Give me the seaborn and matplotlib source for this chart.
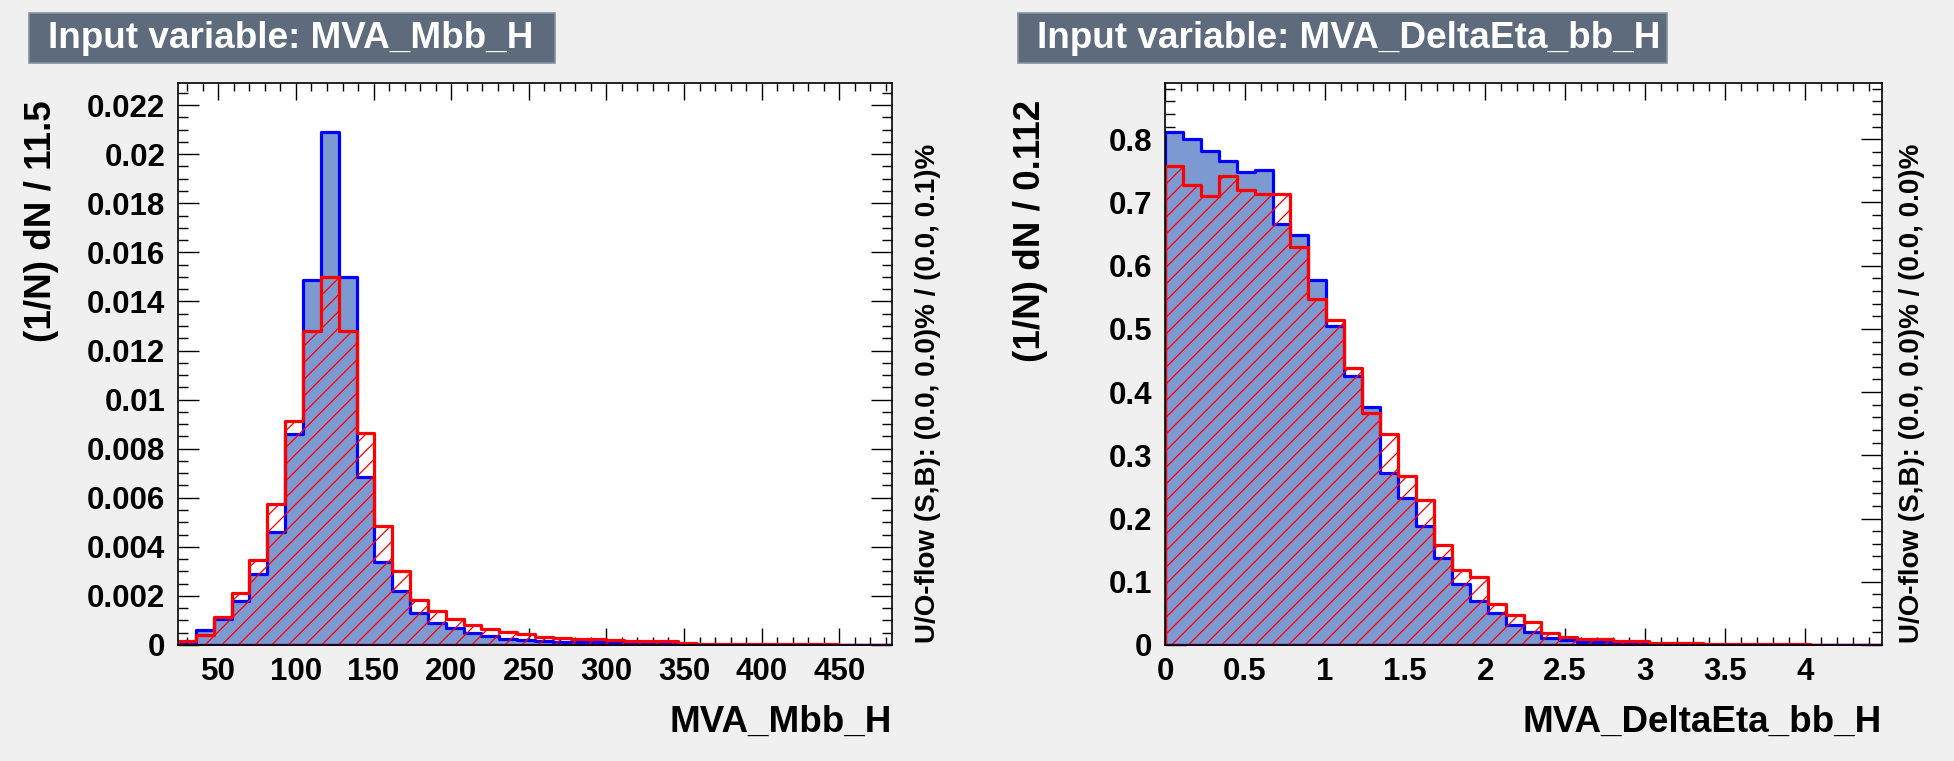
import numpy as np
import pandas as pd
import matplotlib
matplotlib.use("Agg")
import matplotlib.pyplot as plt
import seaborn as sns
from matplotlib.ticker import MultipleLocator, FuncFormatter
from matplotlib.patches import Rectangle

sns.set_theme(style="ticks")
plt.rcParams['font.family'] = ['Liberation Sans', 'DejaVu Sans']
plt.rcParams['hatch.linewidth'] = 0.9
plt.rcParams['text.color'] = 'black'
plt.rcParams['xtick.color'] = 'black'
plt.rcParams['ytick.color'] = 'black'
plt.rcParams['axes.labelcolor'] = 'black'

# --- data: normalised histograms (1/N dN per bin), 40 bins each ---
mbb_start, mbb_width = 24.0, 11.5
mbb_signal = [0.0001, 0.00061, 0.00105, 0.00178, 0.00288, 0.0046, 0.0086, 0.01486,
              0.0209, 0.0150, 0.00686, 0.0034, 0.00219, 0.00132, 0.0009, 0.00068,
              0.00047, 0.00038, 0.00026, 0.00022, 0.00018, 0.00014, 0.00012, 0.00011,
              0.00007, 0.00005, 0.00004, 0.00003, 0.00001, 0.00001, 0.00001, 0.000005,
              0.0, 0.0, 0.0, 0.0, 0.0, 0.0, 0.0, 0.0]
mbb_background = [0.00015, 0.0004, 0.00115, 0.0021, 0.00347, 0.00573, 0.00912, 0.0128,
                  0.0150, 0.01278, 0.00865, 0.00485, 0.00303, 0.00182, 0.00139, 0.00107,
                  0.00081, 0.00064, 0.00051, 0.00045, 0.00032, 0.00027, 0.00026, 0.00026,
                  0.00019, 0.00016, 0.00016, 0.00015, 0.00007, 0.00006, 0.00005, 0.00005,
                  0.00004, 0.00004, 0.00003, 0.00003, 0.00003, 0.00002, 0.00002, 0.00002]

deta_start, deta_width = 0.0, 0.112
deta_signal = [0.812, 0.801, 0.782, 0.765, 0.7475, 0.751, 0.666, 0.649,
               0.577, 0.5045, 0.426, 0.376, 0.272, 0.232, 0.1875, 0.137,
               0.096, 0.070, 0.050, 0.032, 0.021, 0.0106, 0.008, 0.0053,
               0.0042, 0.0026, 0.0016, 0.0008, 0.0005, 0.0004, 0.0003, 0.0002,
               0.0001, 0.0, 0.0, 0.0, 0.0, 0.0, 0.0, 0.0]
deta_background = [0.757, 0.727, 0.7105, 0.742, 0.72, 0.7127, 0.7127, 0.63,
                   0.547, 0.514, 0.438, 0.367, 0.333, 0.267, 0.2287, 0.1585,
                   0.119, 0.108, 0.065, 0.0475, 0.036, 0.0185, 0.0132, 0.009,
                   0.010, 0.0058, 0.0058, 0.0026, 0.0026, 0.0024, 0.0022, 0.002,
                   0.001, 0.001, 0.0008, 0.0008, 0.0006, 0.0006, 0.0005, 0.0005]

panels = [
    dict(var="MVA_Mbb_H", start=mbb_start, width=mbb_width, sig=mbb_signal, bkg=mbb_background,
         ylabel="(1/N) dN / 11.5", uoflow="U/O-flow (S,B): (0.0, 0.0)% / (0.0, 0.1)%",
         ymax=0.0229, xmajor=50, xminor=10, ymajor=0.002, yminor=0.0005,
         ax_px=(178, 892), title_px=(29, 555), ylab_x=42, uo_x=928),
    dict(var="MVA_DeltaEta_bb_H", start=deta_start, width=deta_width, sig=deta_signal, bkg=deta_background,
         ylabel="(1/N) dN / 0.112", uoflow="U/O-flow (S,B): (0.0, 0.0)% / (0.0, 0.0)%",
         ymax=0.889, xmajor=0.5, xminor=0.1, ymajor=0.1, yminor=0.02,
         ax_px=(1165, 1882), title_px=(1018, 1667), ylab_x=1030, uo_x=1912),
]

W, H = 1954, 761
bg = '#f0f0f0'
fig = plt.figure(figsize=(W / 100, H / 100), dpi=100, facecolor=bg)

ax_top, ax_bot = 83, 645
fmt = FuncFormatter(lambda v, p: f"{v:g}" if abs(v) > 1e-12 else "0")

for p in panels:
    n = len(p['sig'])
    lo, hi = p['start'], p['start'] + p['width'] * n
    centers = lo + p['width'] * (np.arange(n) + 0.5)
    df = pd.DataFrame({'x': centers, 'sig': p['sig'], 'bkg': p['bkg']})

    x0, x1 = p['ax_px']
    ax = fig.add_axes([x0 / W, (H - ax_bot) / H, (x1 - x0) / W, (ax_bot - ax_top) / H])
    ax.set_facecolor('white')

    # signal: filled blue, background: red hatched outline
    sns.histplot(data=df, x='x', weights='sig', bins=n, binrange=(lo, hi), element='step',
                 fill=True, color='#0000ff', facecolor='#7d99d1', edgecolor='#0000ff',
                 linewidth=2.3, alpha=1, ax=ax)
    sns.histplot(data=df, x='x', weights='bkg', bins=n, binrange=(lo, hi), element='step',
                 fill=True, color='#ff0000', facecolor='none', edgecolor='#ff0000', hatch='//',
                 linewidth=2.3, alpha=1, ax=ax)

    ax.set_xlim(lo, hi)
    ax.set_ylim(0, p['ymax'])
    ax.set_xlabel('')
    ax.set_ylabel('')

    ax.xaxis.set_major_locator(MultipleLocator(p['xmajor']))
    ax.xaxis.set_minor_locator(MultipleLocator(p['xminor']))
    ax.yaxis.set_major_locator(MultipleLocator(p['ymajor']))
    ax.yaxis.set_minor_locator(MultipleLocator(p['yminor']))
    ax.xaxis.set_major_formatter(fmt)
    ax.yaxis.set_major_formatter(fmt)

    ax.tick_params(axis='both', which='both', direction='in', top=True, right=True,
                   color='black', labelcolor='black', width=1.0)
    ax.tick_params(axis='x', which='major', length=12, labelsize=22.5, pad=9)
    ax.tick_params(axis='x', which='minor', length=6)
    ax.tick_params(axis='y', which='major', length=15, labelsize=22.5, pad=9)
    ax.tick_params(axis='y', which='minor', length=7.5)
    for lab in ax.get_xticklabels() + ax.get_yticklabels():
        lab.set_fontweight('bold')
    for s in ax.spines.values():
        s.set_color('black')
        s.set_linewidth(1.2)
        s.set_zorder(5)

    # ROOT-style title box
    t0, t1 = p['title_px']
    fig.add_artist(Rectangle((t0 / W, 1 - 63 / H), (t1 - t0) / W, 50 / H,
                             transform=fig.transFigure, facecolor='#5d6b7d',
                             edgecolor='#8592a3', linewidth=1.2))
    fig.text((t0 + 19) / W, 1 - 38 / H, f"Input variable: {p['var']}", color='white',
             fontsize=26.6, fontweight='bold', ha='left', va='center')

    # axis titles
    fig.text(x1 / W, 1 - 722 / H, p['var'], fontsize=26.5, fontweight='bold',
             ha='right', va='center')
    fig.text(p['ylab_x'] / W, 1 - 100 / H, p['ylabel'], fontsize=26.5, fontweight='bold',
             rotation=90, ha='center', va='top')
    fig.text(p['uo_x'] / W, 1 - 643 / H, p['uoflow'], fontsize=20, fontweight='bold',
             rotation=90, ha='center', va='bottom')

fig.savefig("out.png", dpi=100, facecolor=bg)
